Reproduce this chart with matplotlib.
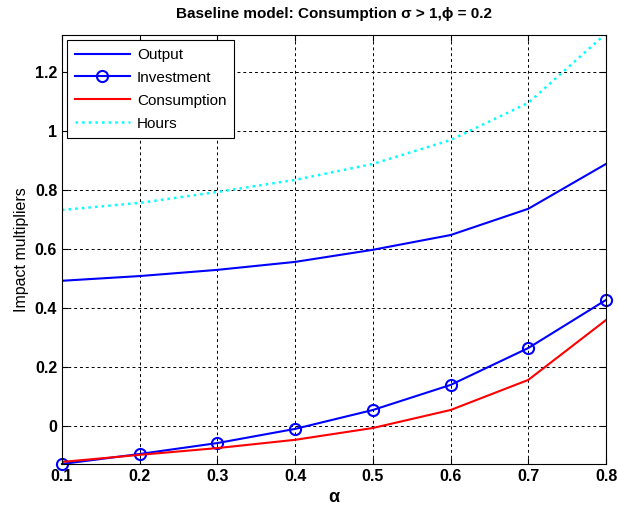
import matplotlib
matplotlib.use("Agg")
import matplotlib.pyplot as plt

alpha = [0.1, 0.2, 0.3, 0.4, 0.5, 0.6, 0.7, 0.8]
output = [0.492, 0.508, 0.529, 0.556, 0.597, 0.647, 0.736, 0.888]
investment = [-0.129, -0.095, -0.058, -0.010, 0.054, 0.139, 0.264, 0.427]
consumption = [-0.122, -0.098, -0.075, -0.047, -0.007, 0.054, 0.156, 0.359]
hours = [0.732, 0.756, 0.793, 0.834, 0.888, 0.969, 1.095, 1.330]

plt.rcParams['font.family'] = ['Liberation Sans', 'DejaVu Sans']

fig = plt.figure(figsize=(6.18, 5.07), dpi=100)
ax = fig.add_axes([62/618, 43/507, 544/618, 429/507])

ax.plot(alpha, output, color='blue', lw=1.5, label='Output')
ax.plot(alpha, investment, color='blue', lw=1.5, marker='o', ms=8,
        mfc='none', mec='blue', mew=1.5, label='Investment', clip_on=False)
ax.plot(alpha, consumption, color='red', lw=1.5, label='Consumption')
ax.plot(alpha, hours, color='cyan', lw=1.8, ls=':', label='Hours')

ax.set_xlim(0.1, 0.8)
ax.set_ylim(-0.129, 1.325)
ax.set_xticks(alpha)
ax.set_xticklabels(['0.1', '0.2', '0.3', '0.4', '0.5', '0.6', '0.7', '0.8'])
ax.set_yticks([0, 0.2, 0.4, 0.6, 0.8, 1.0, 1.2])
ax.set_yticklabels(['0', '0.2', '0.4', '0.6', '0.8', '1', '1.2'])
ax.tick_params(direction='in', top=True, right=True, labelsize=11.5, length=4)
for lab in ax.get_xticklabels() + ax.get_yticklabels():
    lab.set_fontweight('bold')
ax.grid(True, color='black', ls=(0, (3, 3)), lw=0.7)

ax.set_xlabel('α', fontsize=13, fontweight='bold')
ax.set_ylabel('Impact multipliers', fontsize=11.5)
ax.set_title('Baseline model: Consumption σ > 1,ϕ = 0.2',
             fontsize=11, fontweight='bold', pad=12)

leg = ax.legend(loc='upper left', fontsize=11, fancybox=False, edgecolor='black',
                framealpha=1, borderaxespad=0.35, handlelength=3.6, labelspacing=0.58,
                borderpad=0.5, handletextpad=0.45)
leg.get_frame().set_linewidth(0.8)

fig.savefig('out.png', dpi=100)
